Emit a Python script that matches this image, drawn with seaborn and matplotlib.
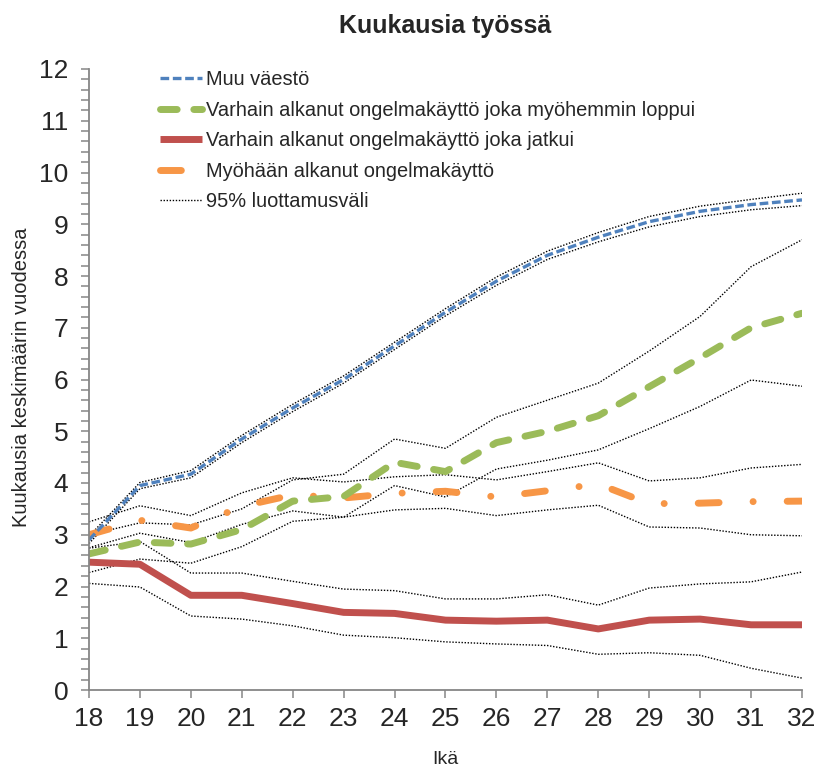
import numpy as np
import pandas as pd
import matplotlib
matplotlib.use("Agg")
import matplotlib.pyplot as plt
import seaborn as sns
from matplotlib.ticker import MultipleLocator

# age axis
ages = list(range(18, 33))

# Muu väestö
muu = [2.90, 3.95, 4.17, 4.85, 5.45, 6.00, 6.65, 7.30, 7.90, 8.40, 8.75, 9.05, 9.25, 9.38, 9.47]
muu_hi = [2.97, 4.01, 4.24, 4.92, 5.52, 6.07, 6.72, 7.37, 7.98, 8.48, 8.84, 9.15, 9.35, 9.48, 9.60]
muu_lo = [2.83, 3.89, 4.10, 4.78, 5.38, 5.93, 6.58, 7.23, 7.82, 8.32, 8.66, 8.95, 9.15, 9.28, 9.36]

# Varhain alkanut, loppui
loppui = [2.63, 2.86, 2.82, 3.10, 3.65, 3.74, 4.40, 4.22, 4.78, 5.00, 5.30, 5.86, 6.42, 7.00, 7.28]
loppui_hi = [3.00, 3.23, 3.19, 3.50, 4.06, 4.17, 4.85, 4.67, 5.27, 5.60, 5.93, 6.55, 7.22, 8.18, 8.70]
loppui_lo = [2.27, 2.53, 2.45, 2.77, 3.26, 3.34, 3.95, 3.73, 4.27, 4.44, 4.64, 5.05, 5.48, 5.99, 5.87]

# Varhain alkanut, jatkui
jatkui = [2.47, 2.43, 1.83, 1.83, 1.67, 1.50, 1.48, 1.35, 1.33, 1.35, 1.18, 1.35, 1.37, 1.26, 1.26]
jatkui_hi = [2.74, 2.87, 2.26, 2.26, 2.10, 1.95, 1.92, 1.76, 1.76, 1.84, 1.64, 1.97, 2.05, 2.09, 2.28]
jatkui_lo = [2.06, 1.99, 1.43, 1.37, 1.24, 1.06, 1.01, 0.93, 0.89, 0.86, 0.69, 0.72, 0.67, 0.42, 0.23]

# Myöhään alkanut
myoh = [3.00, 3.28, 3.13, 3.55, 3.77, 3.71, 3.80, 3.84, 3.73, 3.85, 3.98, 3.60, 3.61, 3.64, 3.65]
myoh_hi = [3.25, 3.56, 3.37, 3.81, 4.10, 4.02, 4.12, 4.16, 4.06, 4.22, 4.39, 4.04, 4.10, 4.29, 4.36]
myoh_lo = [2.75, 3.03, 2.85, 3.20, 3.46, 3.34, 3.48, 3.51, 3.37, 3.48, 3.57, 3.15, 3.13, 3.00, 2.98]

labels = ["Muu väestö",
          "Varhain alkanut ongelmakäyttö joka myöhemmin loppui",
          "Varhain alkanut ongelmakäyttö joka jatkui",
          "Myöhään alkanut ongelmakäyttö",
          "95% luottamusväli"]

sns.set_style("ticks")
plt.rcParams['font.family'] = ['Liberation Sans', 'DejaVu Sans']

fig = plt.figure(figsize=(8.26, 7.67), dpi=100)
ax = fig.add_axes([89/826, 1-690/767, 713/826, 621/767])

# confidence interval lines first
ci_style = dict(color="black", lw=1.0, linestyle=(0, (1, 1.2)))
for ci in [muu_hi, muu_lo, loppui_hi, loppui_lo, jatkui_hi, jatkui_lo, myoh_hi, myoh_lo]:
    sns.lineplot(x=ages, y=ci, ax=ax, **ci_style)

sns.lineplot(x=ages, y=jatkui, ax=ax, color="#C0504D", lw=5, solid_capstyle="butt")
sns.lineplot(x=ages, y=myoh, ax=ax, color="#F79646", lw=5,
             linestyle=(0, (3.0, 4.9, 0.01, 4.9)), dash_capstyle="round")
sns.lineplot(x=ages, y=loppui, ax=ax, color="#9BBB59", lw=5,
             linestyle=(0, (2.4, 2.4)), dash_capstyle="round")
sns.lineplot(x=ages, y=muu, ax=ax, color="#4F81BD", lw=2.4,
             linestyle=(0, (2.6, 1.1)))

ax.set_xlim(18, 32)
ax.set_ylim(0, 12)
ax.set_xticks(ages)
ax.yaxis.set_major_locator(MultipleLocator(1))
ax.yaxis.set_minor_locator(MultipleLocator(0.2))
sns.despine(ax=ax)
for s in ["left", "bottom"]:
    ax.spines[s].set_color("#868686")
    ax.spines[s].set_linewidth(1.3)
ax.tick_params(axis="both", which="both", direction="out", color="#868686", width=1.1, labelsize=19)
ax.tick_params(axis="y", which="both", length=6, pad=9)
ax.tick_params(axis="x", which="major", length=6, pad=6)
ax.set_xlabel("")
ax.set_ylabel("")

fig.text(445/826, 1-26/767, "Kuukausia työssä", ha="center", va="center",
         fontsize=18, fontweight="bold")
fig.text(22/826, 1-377/767, "Kuukausia keskimäärin vuodessa", rotation=90,
         ha="center", va="center", fontsize=14.5)
fig.text(445/826, 1-759/767, "Ikä", ha="center", va="center", fontsize=14)

# legend
lines = ax.get_lines()
ci_line, red, orange, green, blue = lines[0], lines[8], lines[9], lines[10], lines[11]
leg = ax.legend([blue, green, red, orange, ci_line], labels,
                loc="upper left", bbox_to_anchor=(160/826, 1-70/767),
                bbox_transform=fig.transFigure, frameon=False, fontsize=14.4,
                handlelength=2.1, handletextpad=0.2, labelspacing=0.58,
                borderpad=0, borderaxespad=0)

fig.savefig("out.png", dpi=100)
